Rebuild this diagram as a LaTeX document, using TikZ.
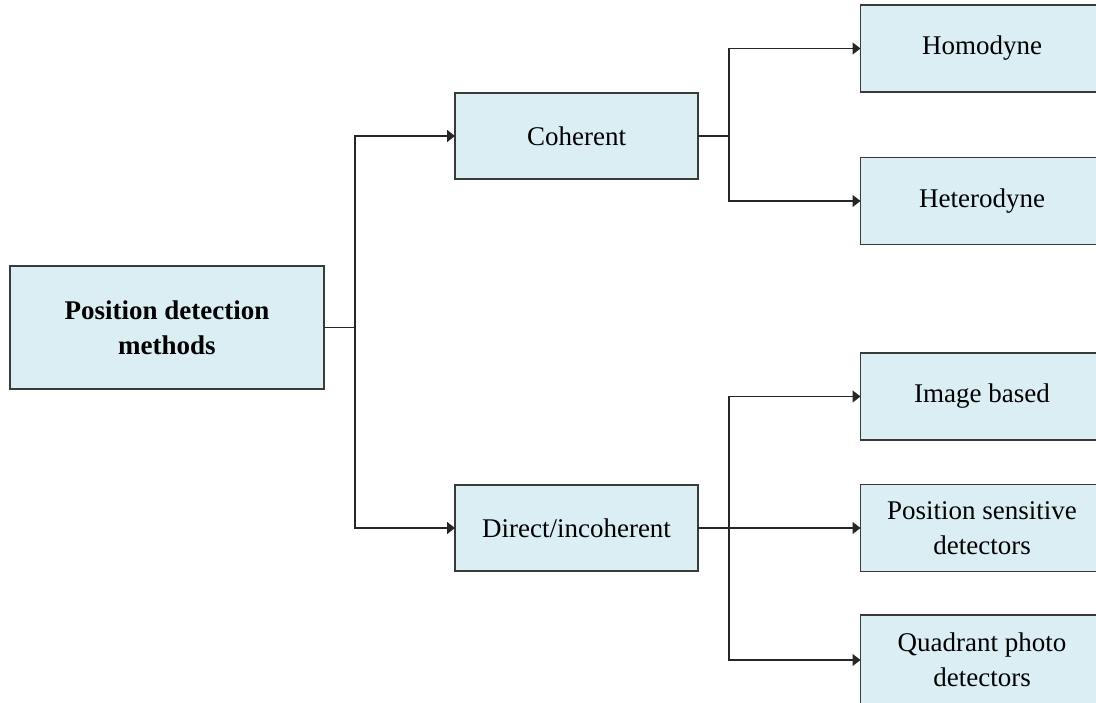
\documentclass[tikz,border=0pt]{standalone}
\usepackage{fontspec}
\setmainfont{Liberation Serif}
\usetikzlibrary{arrows.meta}
\definecolor{boxfill}{HTML}{DAEEF3}
\definecolor{boxline}{HTML}{3A3A3A}
\tikzset{
  box/.style={draw=boxline, fill=boxfill, line width=0.75pt, inner sep=0pt, outer sep=0pt,
    align=center, font=\fontsize{13.5pt}{17.5pt}\selectfont},
  smallbox/.style={box, minimum width=121.5pt, minimum height=43pt},
  link/.style={draw=black!85, line width=0.75pt},
  arr/.style={link, -{Triangle[length=4pt,width=6pt]}}
}
\begin{document}
\begin{tikzpicture}[x=0.5pt,y=-0.5pt]
\useasboundingbox (0,0) rectangle (1096,702);
\clip (0,0) rectangle (1096,702);
\node[box, minimum width=157pt, minimum height=61.5pt, font=\fontsize{13.5pt}{17.5pt}\selectfont\bfseries] (root) at (167,327.5) {Position detection\\methods};
\node[smallbox] (coh) at (576.5,136) {Coherent};
\node[smallbox] (dir) at (576.5,528) {Direct/incoherent};
\node[smallbox, minimum height=43.5pt] (hom) at (982,48.5) {Homodyne};
\node[smallbox, minimum height=43.5pt] (het) at (982,201) {Heterodyne};
\node[smallbox, minimum height=43.5pt] (img) at (982,396.5) {Image based};
\node[smallbox, minimum height=43.5pt] (psd) at (982,528) {Position sensitive\\detectors};
\node[smallbox, minimum height=45pt] (qpd) at (982,660) {Quadrant photo\\detectors};
\coordinate (rj) at (355,327.5);
\coordinate (cj) at (729,136);
\coordinate (dj) at (729,528);
\draw[link] (root.east) -- (rj);
\draw[arr] (rj) |- (coh.west);
\draw[arr] (rj) |- (dir.west);
\draw[link] (coh.east) -- (cj);
\draw[arr] (cj) |- (hom.west);
\draw[arr] (cj) |- (het.west);
\draw[arr] (dir.east) -- (psd.west);
\draw[arr] (dj) |- (img.west);
\draw[arr] (dj) |- (qpd.west);
\end{tikzpicture}
\end{document}
